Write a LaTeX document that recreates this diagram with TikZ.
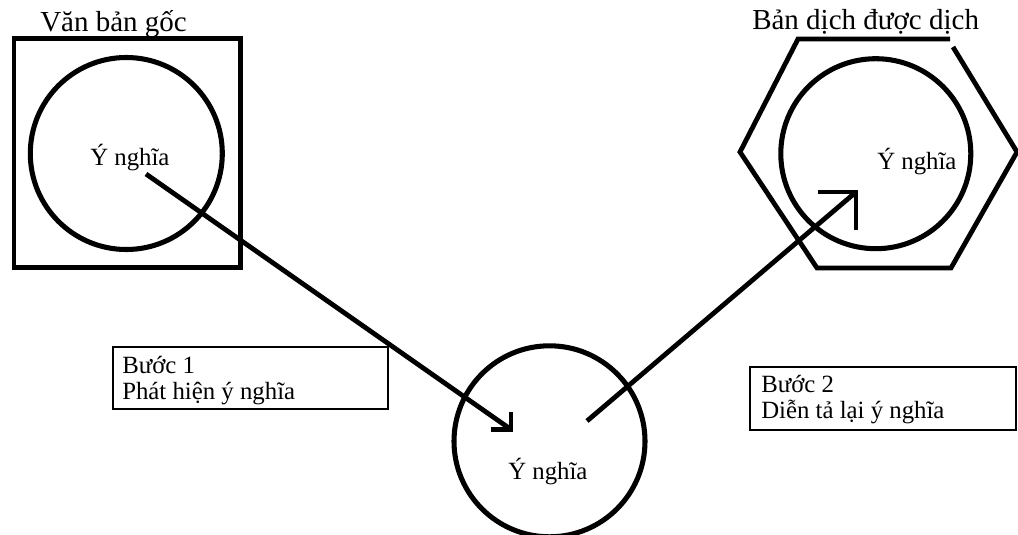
\documentclass[tikz,border=0pt]{standalone}
\usepackage{fontspec}
\setmainfont{Liberation Serif}
\begin{document}
\begin{tikzpicture}[x=0.75pt,y=-0.75pt,
  frame/.style={draw, line width=3.6pt, inner sep=0pt},
  ring/.style={circle, draw, line width=3.8pt, inner sep=0pt},
  stepbox/.style={draw, line width=1.7pt, inner sep=0pt},
  body/.style={font=\fontsize{18.6pt}{22pt}\selectfont, inner sep=0pt, anchor=base west},
  head/.style={font=\fontsize{21.75pt}{26pt}\selectfont, inner sep=0pt, anchor=base west},
  conn/.style={line width=3.6pt, line join=miter},
]
\useasboundingbox (0,0) rectangle (1018,535);
% source text frame
\node[frame, minimum width=169.9pt, minimum height=171.75pt] (src) at (127.25,152.75) {};
\node[head] (srct) at (40,32) {Văn bản gốc};
\node[ring, minimum size=144pt] (c1) at (126.3,153.5) {};
\node[body] (c1t) at (90,166) {Ý nghĩa};
% target hexagon
\draw[conn] (953,47) -- (1017,152) -- (951,268) -- (817,268) -- (740,152) -- (798,39) -- (950,39);
\node[head] (tgtt) at (752,30) {Bản dịch được dịch};
\node[ring, minimum size=142.5pt] (c2) at (875.8,153.7) {};
\node[body] (c2t) at (877,170) {Ý nghĩa};
% middle meaning
\node[ring, minimum size=143.25pt] (c3) at (549.5,441.3) {};
\node[body] (c3t) at (508,479) {Ý nghĩa};
% step boxes
\node[stepbox, minimum width=206.25pt, minimum height=46.5pt] (b1) at (250.5,378) {};
\node[body] (b1a) at (122,373) {Bước 1};
\node[body] (b1b) at (122,399) {Phát hiện ý nghĩa};
\node[stepbox, minimum width=199.5pt, minimum height=47.25pt] (b2) at (883,398.5) {};
\node[body] (b2a) at (761,392) {Bước 2};
\node[body] (b2b) at (761,418) {Diễn tả lại ý nghĩa};
% arrows
\coordinate (a1s) at (146,174);
\coordinate (a1e) at (511,429.5);
\draw[conn] (a1s) -- (a1e);
\draw[conn] (a1e) ++(-20,0) -- (a1e) -- ++(0,-18);
\coordinate (a2s) at (587,421);
\coordinate (a2e) at (856,192);
\draw[conn] (a2s) -- (a2e);
\draw[conn] (a2e) ++(-38,0) -- (a2e) -- ++(0,38);
\end{tikzpicture}
\end{document}
